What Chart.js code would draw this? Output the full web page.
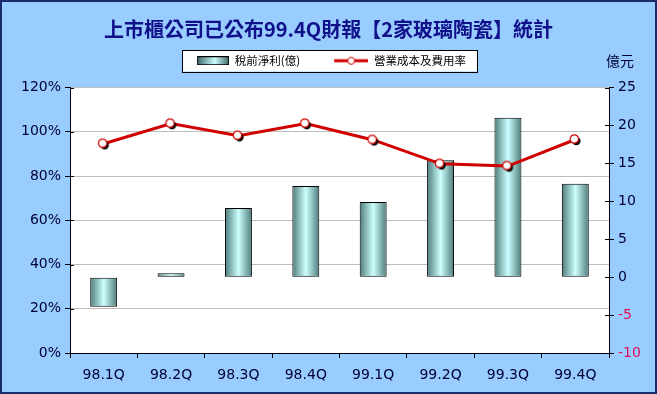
<!DOCTYPE html>
<html>
<head>
<meta charset="utf-8">
<script src="https://cdn.jsdelivr.net/npm/chart.js@4"></script>
<style>
html,body{margin:0;padding:0;background:#99CCFF;}
#wrap{width:657px;height:394px;position:relative;}
</style>
</head>
<body>
<div id="wrap"><canvas id="c" width="657" height="394"></canvas></div>
<script>
const categories = ['98.1Q','98.2Q','98.3Q','98.4Q','99.1Q','99.2Q','99.3Q','99.4Q'];
const profitValues = [-3.9, 0.5, 9.1, 12.0, 9.9, 15.4, 21.0, 12.3];
const costRatioValues = [0.946, 1.037, 0.982, 1.037, 0.963, 0.855, 0.845, 0.965];
const leftTicks = [0, 0.2, 0.4, 0.6, 0.8, 1.0, 1.2];
const rightTicks = [-10, -5, 0, 5, 10, 15, 20, 25];
const titleText = '上市櫃公司已公布99.4Q財報【2家玻璃陶瓷】統計';
const seriesNames = ['稅前淨利(億)', '營業成本及費用率'];
const rightUnit = '億元';

const NAVY = '#000033';
const RED = '#D00000';
const CJK = '"Noto Sans CJK TC", "Noto Sans CJK SC", sans-serif';
const LAT = '"DejaVu Sans", sans-serif';
const LEG_W = 58;
const LEG_SHIFT = -10;

function makePointImg() {
  const c = document.createElement('canvas');
  c.width = 15; c.height = 15;
  const x = c.getContext('2d');
  x.fillStyle = '#000';
  x.beginPath(); x.arc(8.5, 9, 4.2, 0, Math.PI * 2); x.fill();
  x.fillStyle = '#fff'; x.strokeStyle = RED; x.lineWidth = 1.2;
  x.beginPath(); x.arc(6.5, 7, 4.2, 0, Math.PI * 2); x.fill(); x.stroke();
  return c;
}
function makeLegendLine() {
  const c = document.createElement('canvas');
  c.width = LEG_W; c.height = 12;
  const x = c.getContext('2d');
  const o = LEG_W - 34;
  x.strokeStyle = RED; x.lineWidth = 3;
  x.beginPath(); x.moveTo(o, 6); x.lineTo(LEG_W, 6); x.stroke();
  x.fillStyle = '#fff'; x.lineWidth = 1;
  x.beginPath(); x.arc(o + 17, 6, 3.5, 0, Math.PI * 2); x.fill(); x.stroke();
  return c;
}
function makeLegendBar() {
  const c = document.createElement('canvas');
  c.width = LEG_W; c.height = 9;
  const x = c.getContext('2d');
  const o = LEG_W - 32;
  const g = x.createLinearGradient(o, 0, LEG_W, 0);
  g.addColorStop(0, '#3F6565'); g.addColorStop(0.55, '#CCFFFF'); g.addColorStop(1, '#3F6565');
  x.fillStyle = g; x.fillRect(o, 0, 32, 9);
  x.strokeStyle = '#000'; x.lineWidth = 1; x.strokeRect(o + 0.5, 0.5, 31, 8);
  return c;
}
const pointImg = makePointImg();
const legendLine = makeLegendLine();
const legendBar = makeLegendBar();

function barGradient(ctx) {
  const chart = ctx.chart;
  if (!chart.chartArea || ctx.dataIndex === undefined) return '#99CCCC';
  const xs = chart.scales.x;
  const cx = xs.getPixelForValue(ctx.dataIndex);
  const w = (chart.chartArea.right - chart.chartArea.left) / categories.length * 0.4;
  const g = chart.ctx.createLinearGradient(cx - w / 2, 0, cx + w / 2, 0);
  g.addColorStop(0, '#4E7B7B');
  g.addColorStop(0.5, '#CCFFFF');
  g.addColorStop(1, '#4E7B7B');
  return g;
}

function patchLegend(chart) {
  const lg = chart.legend;
  if (lg && !lg._patched) {
    const origFit = lg.fit;
    lg.fit = function () { origFit.apply(this, arguments); this.height += 11; };
    const origDraw = lg.draw;
    lg.draw = function () {
      const c = this.ctx;
      c.save(); c.translate(LEG_SHIFT, 0);
      origDraw.apply(this, arguments);
      c.restore();
    };
    lg._patched = true;
  }
}

const decor = {
  id: 'decor',
  beforeLayout(chart) { patchLegend(chart); },
  beforeDraw(chart) {
    const c = chart.ctx;
    c.save();
    c.fillStyle = '#99CCFF';
    c.fillRect(0, 0, chart.width, chart.height);
    c.strokeStyle = '#1A2A6A'; c.lineWidth = 2;
    c.strokeRect(1, 1, chart.width - 2, chart.height - 2);
    const a = chart.chartArea;
    c.fillStyle = '#fff';
    c.fillRect(a.left, a.top, a.right - a.left, a.bottom - a.top);
    const hb = chart.legend.legendHitBoxes;
    if (hb && hb.length) {
      let l = Math.min(...hb.map(h => h.left)) + (LEG_W - 32) - 15 + LEG_SHIFT;
      let r = Math.max(...hb.map(h => h.left + h.width)) + 11 + LEG_SHIFT;
      let t = Math.min(...hb.map(h => h.top)) - 5;
      let b = Math.max(...hb.map(h => h.top + h.height)) + 5;
      c.fillStyle = '#fff'; c.fillRect(l, t, r - l, b - t);
      c.strokeStyle = '#000'; c.lineWidth = 1;
      c.strokeRect(Math.round(l) + 0.5, Math.round(t) + 0.5, Math.round(r - l), Math.round(b - t));
    }
    c.restore();
  },
  afterDraw(chart) {
    const c = chart.ctx;
    const a = chart.chartArea;
    c.save();
    c.strokeStyle = '#000'; c.lineWidth = 1;
    const y = chart.scales.y, y1 = chart.scales.y1;
    leftTicks.forEach(v => {
      const py = Math.round(y.getPixelForValue(v)) + 0.5;
      c.beginPath(); c.moveTo(a.left, py); c.lineTo(a.left + 4, py); c.stroke();
    });
    rightTicks.forEach(v => {
      const py = Math.round(y1.getPixelForValue(v)) + 0.5;
      c.beginPath(); c.moveTo(a.right - 4, py); c.lineTo(a.right, py); c.stroke();
    });
    c.fillStyle = NAVY;
    c.font = '14px ' + CJK;
    c.textAlign = 'left'; c.textBaseline = 'middle';
    c.fillText(rightUnit, 606, 61);
    c.restore();
  }
};

new Chart(document.getElementById('c'), {
  type: 'bar',
  data: {
    labels: categories,
    datasets: [
      {
        type: 'line',
        label: seriesNames[1],
        data: costRatioValues,
        yAxisID: 'y',
        borderColor: RED,
        borderWidth: 3,
        pointStyle: pointImg,
        pointRadius: 5,
        tension: 0,
        order: 0
      },
      {
        type: 'bar',
        label: seriesNames[0],
        data: profitValues,
        yAxisID: 'y1',
        backgroundColor: barGradient,
        borderColor: '#000',
        borderWidth: 1,
        borderSkipped: false,
        barPercentage: 0.4,
        categoryPercentage: 1.0,
        order: 1
      }
    ]
  },
  options: {
    responsive: false,
    animation: false,
    devicePixelRatio: 1,
    layout: { padding: 0 },
    plugins: {
      title: {
        display: true,
        text: titleText,
        color: '#10108A',
        font: { family: CJK, size: 20, weight: 'bold' },
        padding: { top: 17, bottom: 4 }
      },
      legend: {
        display: true,
        position: 'top',
        labels: {
          usePointStyle: true,
          pointStyleWidth: LEG_W,
          padding: 10,
          color: '#000',
          font: { family: CJK, size: 11.5 },
          generateLabels(chart) {
            return [
              { text: seriesNames[0], pointStyle: legendBar, datasetIndex: 1, fillStyle: '#9cc', strokeStyle: '#000', lineWidth: 0, hidden: false },
              { text: seriesNames[1], pointStyle: legendLine, datasetIndex: 0, fillStyle: '#fff', strokeStyle: RED, lineWidth: 0, hidden: false }
            ];
          }
        }
      },
      tooltip: { enabled: false }
    },
    scales: {
      x: {
        offset: true,
        grid: { display: true, offset: true, drawOnChartArea: false, color: '#000', tickLength: 5, tickColor: '#000' },
        border: { display: true, color: '#000', width: 1 },
        ticks: { color: NAVY, font: { family: LAT, size: 14 }, padding: 9 },
        afterFit(s) { s.height = 41; }
      },
      y: {
        position: 'left',
        min: 0, max: 1.2,
        afterBuildTicks(s) { s.ticks = leftTicks.map(v => ({ value: v })); },
        ticks: {
          color: NAVY,
          font: { family: LAT, size: 14 },
          padding: 4,
          callback: v => Math.round(v * 100) + '%'
        },
        grid: { color: '#BDBDBD', tickLength: 5, tickColor: '#000', drawTicks: true },
        border: { display: true, color: '#000', width: 1 },
        afterFit(s) { s.width = 70; }
      },
      y1: {
        position: 'right',
        min: -10, max: 25,
        afterBuildTicks(s) { s.ticks = rightTicks.map(v => ({ value: v })); },
        ticks: {
          color: ctx => (ctx.tick && ctx.tick.value < 0) ? '#E0105A' : NAVY,
          font: { family: LAT, size: 14 },
          padding: 4,
          callback: v => String(v)
        },
        grid: { drawOnChartArea: false, tickLength: 5, tickColor: '#000' },
        border: { display: true, color: '#000', width: 1 },
        afterFit(s) { s.width = 48; }
      }
    }
  },
  plugins: [decor]
});
</script>
</body>
</html>
